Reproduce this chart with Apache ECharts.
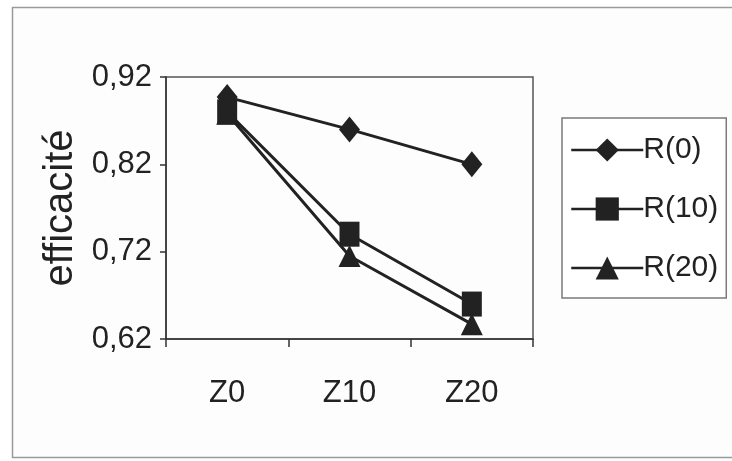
<!DOCTYPE html>
<html>
<head>
<meta charset="utf-8">
<script src="https://cdn.jsdelivr.net/npm/echarts@6/dist/echarts.min.js"></script>
<style>
  html, body { margin: 0; padding: 0; background: #ffffff; }
  #chart { width: 732px; height: 461px; }
</style>
</head>
<body>
<div id="chart"></div>
<script>
// Efficacité par zone (Z) pour trois valeurs de R
const categories = ['Z0', 'Z10', 'Z20'];
const seriesNames = ['R(0)', 'R(10)', 'R(20)'];
const r0Values = [0.897, 0.86, 0.82];
const r10Values = [0.88, 0.74, 0.66];
const r20Values = [0.878, 0.715, 0.637];
const yTickValues = [0.62, 0.72, 0.82, 0.92];
const yAxisTitle = 'efficacité';

const FONT = "'Liberation Sans', Arial, sans-serif";
const INK = '#222222';

const chart = echarts.init(document.getElementById('chart'), null, { renderer: 'canvas' });

const markerStyles = [
  { symbol: 'diamond', symbolSize: [21, 26] },
  { symbol: 'rect', symbolSize: [20, 25] },
  { symbol: 'triangle', symbolSize: [22, 22] }
];
const valueSets = [r0Values, r10Values, r20Values];

const series = seriesNames.map((name, i) => ({
  name: name,
  type: 'line',
  data: valueSets[i],
  symbol: markerStyles[i].symbol,
  symbolSize: markerStyles[i].symbolSize,
  showAllSymbol: true,
  lineStyle: { color: INK, width: 3 },
  itemStyle: { color: INK, borderColor: INK, borderWidth: 0 },
  emphasis: { disabled: true },
  animation: false,
  z: 2 + i
}));

chart.setOption({
  backgroundColor: '#ffffff',
  animation: false,
  graphic: [{
    type: 'rect',
    shape: { x: 12.5, y: 7.5, width: 740, height: 450 },
    style: { fill: '#fdfdfd', stroke: '#9a9a9a', lineWidth: 1.5 },
    z: -10,
    silent: true
  }],
  grid: {
    left: 166, top: 77, right: 199, bottom: 122,
    show: true, borderColor: '#555555', borderWidth: 1.5,
    backgroundColor: 'transparent'
  },
  legend: {
    orient: 'vertical',
    left: 562, top: 118,
    padding: [17, 8, 15, 8],
    itemGap: 29,
    itemWidth: 72, itemHeight: 29,
    backgroundColor: '#ffffff',
    borderColor: '#7a7a7a', borderWidth: 1.5, borderRadius: 0,
    lineStyle: { width: 2.5, color: INK },
    textStyle: { fontFamily: FONT, fontSize: 30, color: INK, padding: [0, 0, 0, -5] },
    data: seriesNames,
    selectedMode: false
  },
  xAxis: {
    type: 'category',
    data: categories,
    boundaryGap: true,
    axisLine: { lineStyle: { color: '#333333', width: 1.5 } },
    axisTick: { show: true, alignWithLabel: false, length: 8, lineStyle: { color: '#333333', width: 1.5 } },
    axisLabel: { fontFamily: FONT, fontSize: 31, color: INK, margin: 39 },
    splitLine: { show: false }
  },
  yAxis: {
    type: 'value',
    min: yTickValues[0],
    max: yTickValues[yTickValues.length - 1],
    interval: 0.1,
    name: yAxisTitle,
    nameLocation: 'middle',
    nameRotate: 90,
    nameGap: 68,
    nameTextStyle: { fontFamily: FONT, fontSize: 40, color: INK },
    axisLine: { show: true, lineStyle: { color: '#333333', width: 1.5 } },
    axisTick: { show: true, length: 6, lineStyle: { color: '#333333', width: 1.5 } },
    axisLabel: {
      fontFamily: FONT, fontSize: 31, color: INK, margin: 14,
      formatter: v => v.toFixed(2).replace('.', ',')
    },
    splitLine: { show: false }
  },
  series: series
});
</script>
</body>
</html>
